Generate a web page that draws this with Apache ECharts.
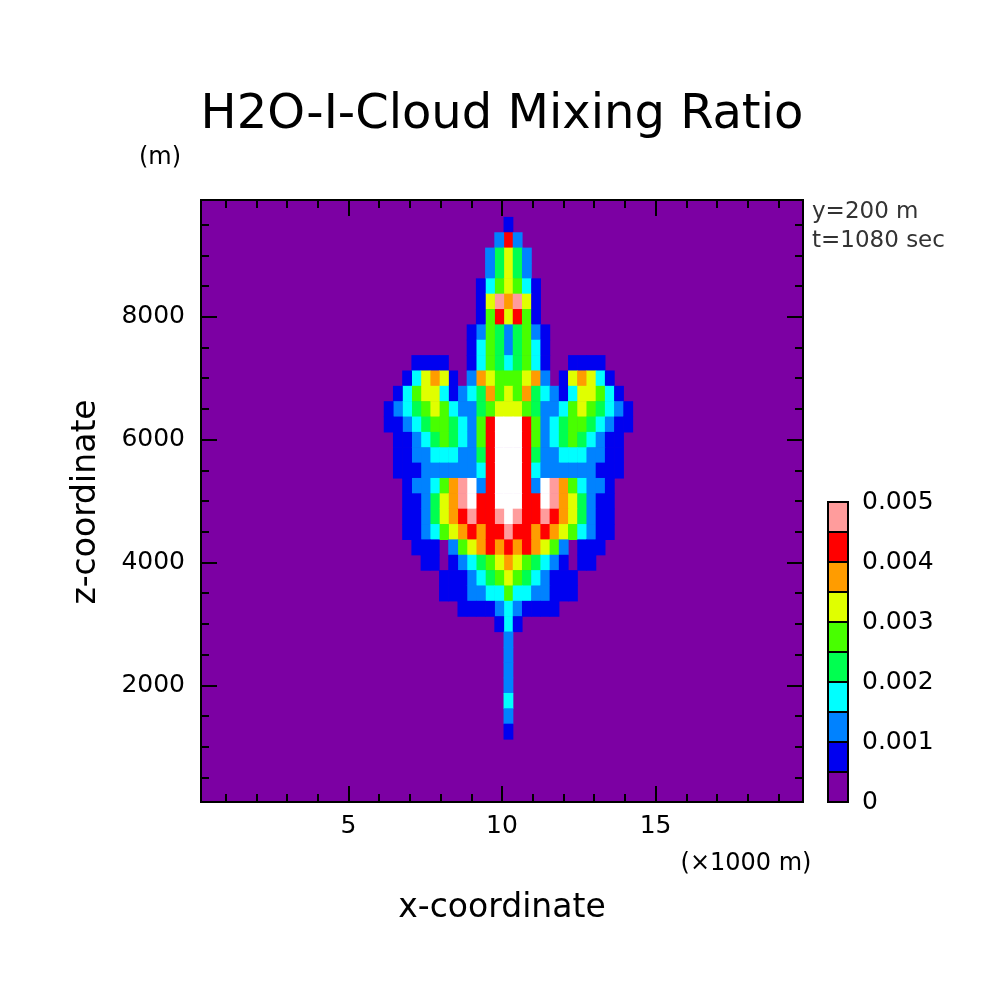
<!DOCTYPE html>
<html><head><meta charset="utf-8">
<script src="https://cdn.jsdelivr.net/npm/echarts@6/dist/echarts.min.js"></script>
<style>html,body{margin:0;background:#fff}#c{width:1004px;height:1004px}</style>
</head><body><div id="c"></div>
<script>
// Level strings: each row is a z level; chars are k=0..13 columns outward from the centre (x=10200 m), mirrored.
// 0..9 = contour band index (band width 0.0005), W = above 0.005
var zLevels = [9750,9500,9250,9000,8750,8500,8250,8000,7750,7500,7250,7000,6750,6500,6250,6000,5750,5500,5250,5000,4750,4500,4250,4000,3750,3500,3250,3000,2750,2500,2250,2000,1750,1500,1250];
var bandRows = [
"00000000000000",
"10000000000000",
"82000000000000",
"64200000000000",
"64200000000000",
"65310000000000",
"79610000000000",
"68510000000000",
"24521000000000",
"24531000000000",
"34531001111000",
"55672016763100",
"65743213665310",
"66542235654321",
"WW852345543211",
"WW852345432110",
"WW842233322110",
"WW832222221110",
"WW82W975322100",
"WW88W976421100",
"W9889876421100",
"98878765321100",
"87876520111000",
"76543210110000",
"65432111000000",
"53322111000000",
"32111100000000",
"31000000000000",
"20000000000000",
"20000000000000",
"20000000000000",
"20000000000000",
"30000000000000",
"20000000000000",
"10000000000000"
];
var xCentre = 10200, xStep = 300, zStep = 250;
var bandColors = ['#7c00a3','#0000f0','#0082ff','#00ffff','#00ff50','#48ff00','#e0ff00','#ff9c00','#ff0000','#ff9c9c','#ffffff'];
var cbLabels = ['0','0.001','0.002','0.003','0.004','0.005'];
var xMajor = [5000,10000,15000];
var yMajor = [2000,4000,6000,8000];

var data = [];
bandRows.forEach(function(row, r){
  for (var k = 0; k < row.length; k++) {
    var ch = row[k];
    var band = ch === 'W' ? 10 : parseInt(ch, 10);
    if (band === 0) continue;
    var val = band * 0.0005 + 0.00025;
    data.push([xCentre + k * xStep, zLevels[r], val]);
    if (k > 0) data.push([xCentre - k * xStep, zLevels[r], val]);
  }
});
function bandOf(v){ return Math.min(10, Math.floor(v / 0.0005)); }

var xMinor = [], yMinor = [];
for (var i = 1000; i <= 19000; i += 1000) if (xMajor.indexOf(i) < 0) xMinor.push(i);
for (var j = 500; j <= 9500; j += 500) if (yMajor.indexOf(j) < 0) yMinor.push(j);

var font = 'DejaVu Sans';
function xAx(pos, ticks, len, labels){
  return {type:'value', min:200, max:19800, position:pos, gridIndex:0,
    axisLine:{show:true, onZero:false, lineStyle:{color:'#000', width:2}},
    splitLine:{show:false},
    axisTick:{show:true, inside:true, length:len, customValues:ticks, lineStyle:{color:'#000', width:2}},
    axisLabel:{show:labels, customValues:ticks, formatter:function(v){return String(v/1000);}, color:'#000', fontFamily:font, fontSize:25, margin:12}};
}
function yAx(pos, ticks, len, labels){
  return {type:'value', min:100, max:9900, position:pos, gridIndex:0,
    axisLine:{show:true, onZero:false, lineStyle:{color:'#000', width:2}},
    splitLine:{show:false},
    axisTick:{show:true, inside:true, length:len, customValues:ticks, lineStyle:{color:'#000', width:2}},
    axisLabel:{show:labels, customValues:ticks, formatter:function(v){return String(v);}, color:'#000', fontFamily:font, fontSize:25, margin:16}};
}

var graphics = [];
var cbX = 828, cbTop = 502, cbH = 30, cbW = 20;
for (var b = 0; b < 10; b++) {
  graphics.push({type:'rect', shape:{x:cbX, y:cbTop + (9-b)*cbH, width:cbW, height:cbH},
    style:{fill:bandColors[b], stroke:'#000', lineWidth:2}});
}
cbLabels.forEach(function(t, i){
  graphics.push({type:'text', x:862, y:cbTop + 300 - i*60, style:{text:t, font:'25px "DejaVu Sans"', fill:'#000', verticalAlign:'middle'}});
});
graphics.push({type:'text', x:502, y:116, style:{text:'H2O-I-Cloud Mixing Ratio', font:'48px "DejaVu Sans"', fill:'#000', align:'center', verticalAlign:'middle'}});
graphics.push({type:'text', x:160, y:158, style:{text:'(m)', font:'24px "DejaVu Sans"', fill:'#000', align:'center', verticalAlign:'middle'}});
graphics.push({type:'text', x:86, y:502, rotation:Math.PI/2, style:{text:'z-coordinate', font:'33px "DejaVu Sans"', fill:'#000', align:'center', verticalAlign:'middle'}});
graphics.push({type:'text', x:502, y:908, style:{text:'x-coordinate', font:'33px "DejaVu Sans"', fill:'#000', align:'center', verticalAlign:'middle'}});
graphics.push({type:'text', x:746, y:864, style:{text:'(×1000 m)', font:'24px "DejaVu Sans"', fill:'#000', align:'center', verticalAlign:'middle'}});
graphics.push({type:'text', x:812, y:212, style:{text:'y=200 m', font:'23px "DejaVu Sans"', fill:'#333', verticalAlign:'middle'}});
graphics.push({type:'text', x:812, y:241, style:{text:'t=1080 sec', font:'23px "DejaVu Sans"', fill:'#333', verticalAlign:'middle'}});

var chart = echarts.init(document.getElementById('c'));
chart.setOption({
  backgroundColor:'#fff',
  animation:false,
  grid:{left:201, top:200, width:602, height:602, show:true, backgroundColor:bandColors[0], borderWidth:0},
  xAxis:[xAx('bottom', xMajor, 16, true), xAx('bottom', xMinor, 8, false), xAx('top', xMajor, 16, false), xAx('top', xMinor, 8, false)],
  yAxis:[yAx('left', yMajor, 16, true), yAx('left', yMinor, 8, false), yAx('right', yMajor, 16, false), yAx('right', yMinor, 8, false)],
  series:[{
    type:'custom', xAxisIndex:0, yAxisIndex:0, clip:true, z:1,
    data:data,
    renderItem:function(params, api){
      var x = api.value(0), z = api.value(1), v = api.value(2);
      var p1 = api.coord([x - xStep/2, z + zStep/2]);
      var p2 = api.coord([x + xStep/2, z - zStep/2]);
      return {type:'rect', shape:{x:p1[0], y:p1[1], width:p2[0]-p1[0]+0.6, height:p2[1]-p1[1]+0.6},
        style:{fill:bandColors[bandOf(v)]}};
    }
  }],
  graphic:graphics
});
</script></body></html>
